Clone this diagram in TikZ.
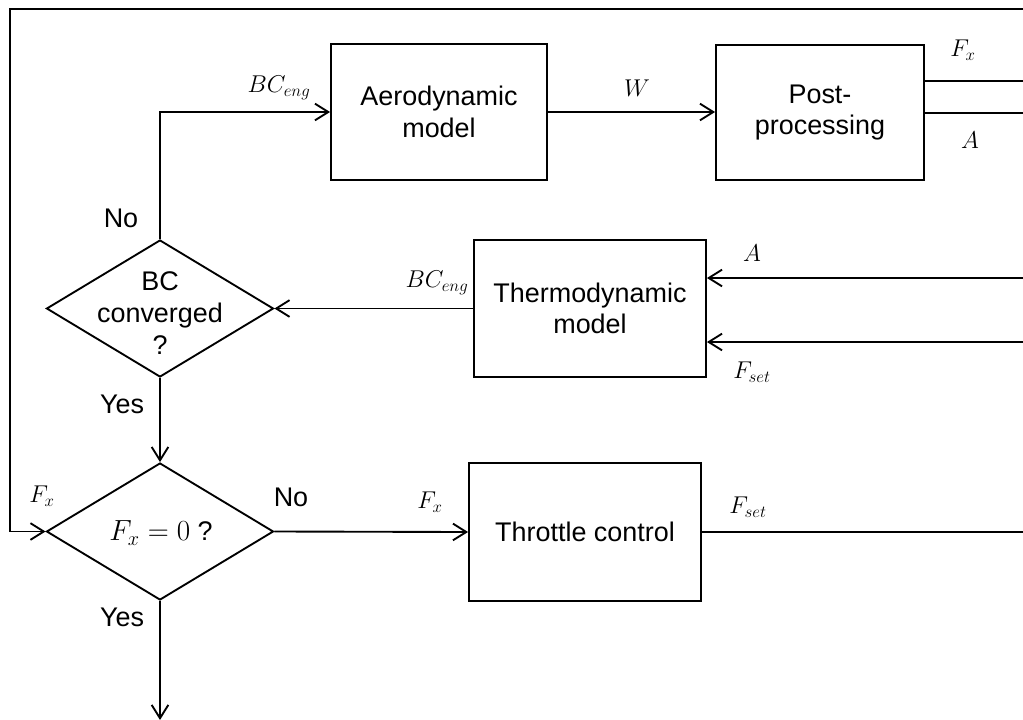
\documentclass[tikz,border=0pt]{standalone}
\usepackage{fontspec}
\setmainfont{Liberation Sans}
\usetikzlibrary{arrows.meta,shapes.geometric}
\begin{document}
\begin{tikzpicture}[x=0.03cm,y=-0.03cm,
  every node/.style={font=\fontsize{23}{27}\selectfont},
  box/.style={draw, line width=1.6pt, rectangle, align=center, inner sep=0pt},
  dia/.style={draw, line width=1.6pt, diamond, inner sep=0pt},
  ln/.style={line width=1.6pt},
  arr/.style={ln, -{Straight Barb[length=0.4cm,width=0.5cm,line width=1.6pt]}},
  lab/.style={font=\fontsize{19.5}{22}\selectfont, inner sep=0pt},
  txt/.style={inner sep=0pt, align=center}]
\useasboundingbox (0,0) rectangle (1023,720);
% boxes
\node[box, minimum width=6.48cm, minimum height=4.08cm] (aero) at (439,112) {Aerodynamic\\model};
\node[box, minimum width=6.24cm, minimum height=4.05cm] (post) at (820,112.5) {Post-\\processing};
\node[box, minimum width=6.96cm, minimum height=4.11cm] (thermo) at (590,308.5) {Thermodynamic\\model};
\node[box, minimum width=6.96cm, minimum height=4.14cm] (thr) at (585,532) {Throttle control};
\node[dia, minimum width=6.81cm, minimum height=4.11cm] (d1) at (160,308.5) {};
\node[txt] (d1t) at (160,313) {BC\\converged\\?};
\node[dia, minimum width=6.81cm, minimum height=4.11cm] (d2) at (160,531.5) {};
\node[txt] (d2t) at (161,533) {$F_x = 0$ ?};
% coordinates at the picture edges
\coordinate (bot) at (160,720);
\coordinate (tr) at (1023,9);
\coordinate (tl) at (10,9);
\coordinate (pf) at (1023,81);
\coordinate (pa) at (1023,113);
\coordinate (ta) at (1023,278);
\coordinate (tf) at (1023,342);
\coordinate (tt) at (1023,532);
% connectors
\draw[arr] (aero.east) -- (aero.east -| post.west);
\draw[arr] (d1.north) |- (aero.west);
\draw[arr] (thermo.west) -- (d1.east);
\draw[arr] (d1.south) -- (d2.north);
\draw[arr] (d2.east) -- (thr.west);
\draw[arr] (d2.south) -- (bot);
\draw[arr] (tr) -- (tl) |- (d2.west);
\draw[ln] (pf -| post.east) -- (pf);
\draw[ln] (pa -| post.east) -- (pa);
\draw[arr] (ta) -- (ta -| thermo.east);
\draw[arr] (tf) -- (tf -| thermo.east);
\draw[ln] (thr.east) -- (tt);
% labels
\node[lab] (lW) at (637,88) {$W$};
\node[lab] (lbc1) at (279,88) {$BC_{eng}$};
\node[lab] (lfx1) at (963,50) {$F_x$};
\node[lab] (lA1) at (970,140) {$A$};
\node[lab] (lA2) at (752,253) {$A$};
\node[lab] (lfs1) at (752,372) {$F_{set}$};
\node[lab] (lbc2) at (437,283) {$BC_{eng}$};
\node[lab] (lfx2) at (430,502) {$F_x$};
\node[lab] (lfs2) at (748,507) {$F_{set}$};
\node[lab] (lfx3) at (42,496) {$F_x$};
\node[txt] (no1) at (121,218) {No};
\node[txt] (yes1) at (122,404) {Yes};
\node[txt] (no2) at (291,497) {No};
\node[txt] (yes2) at (122,617) {Yes};
\end{tikzpicture}
\end{document}
